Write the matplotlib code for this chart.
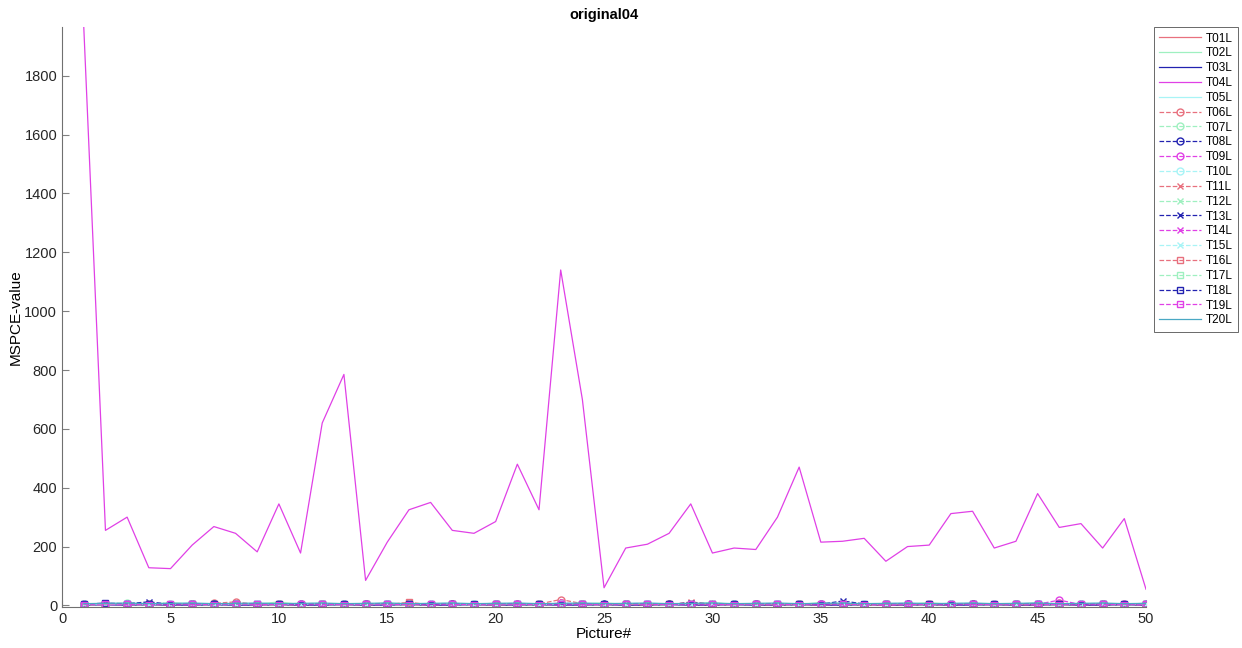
import matplotlib
matplotlib.use('Agg')
import matplotlib.pyplot as plt

plt.rcParams['font.family'] = ['Liberation Sans', 'DejaVu Sans']

pictures = list(range(1, 51))

t04 = [1965, 255, 300, 128, 125, 205, 268, 245, 182, 345,
       178, 620, 785, 85, 215, 325, 350, 255, 245, 285,
       480, 325, 1140, 700, 60, 195, 208, 245, 345, 178,
       195, 190, 300, 470, 215, 218, 228, 150, 200, 205,
       312, 320, 195, 218, 380, 265, 278, 195, 295, 55]

# the other 19 series all stay close to zero
small = {
  'T01L': [3, 4, 2, 3, 5, 2, 3, 4, 2, 3, 2, 4, 3, 2, 4, 3, 2, 3, 4, 2, 3, 2, 4, 3, 2,
           3, 2, 4, 3, 2, 3, 4, 2, 3, 2, 3, 1, 2, 3, 2, 3, 4, 2, 3, 2, 4, 3, 2, 3, 2],
  'T02L': [2, 5, 4, 3, 10, 3, 2, 3, 4, 12, 3, 2, 4, 3, 9, 2, 3, 4, 3, 8, 2, 3, 4, 5, 9,
           3, 2, 3, 4, 10, 3, 2, 4, 3, 10, 3, 2, 3, 4, 10, 3, 2, 3, 4, 9, 3, 2, 4, 3, 8],
  'T03L': [1, 2, 1, 2, 1, 1, 2, 1, 1, 2, 1, 1, 2, 1, 1, 2, 1, 1, 2, 1, 1, 2, 1, 1, 2,
           1, 1, 2, 1, 1, 2, 1, 1, 2, 1, 1, 2, 1, 1, 2, 1, 1, 2, 1, 1, 2, 1, 1, 2, 1],
  'T05L': [4, 5, 6, 4, 5, 6, 4, 5, 6, 4, 5, 6, 4, 5, 6, 4, 5, 6, 4, 5, 6, 4, 5, 6, 4,
           5, 6, 4, 5, 6, 4, 5, 6, 4, 5, 6, 4, 5, 6, 4, 5, 6, 4, 5, 6, 4, 5, 6, 4, 5],
  'T06L': [4, 6, 3, 5, 2, 4, 7, 12, 3, 4, 5, 3, 4, 2, 5, 8, 3, 4, 3, 2, 4, 5, 20, 6, 3,
           4, 2, 5, 6, 3, 4, 3, 2, 5, 4, 6, 1, 2, 3, 4, 5, 3, 4, 2, 3, 7, 4, 3, 5, 2],
  'T07L': [3, 5, 8, 4, 3, 5, 6, 4, 3, 5, 4, 6, 3, 5, 4, 2, 3, 6, 4, 3, 2, 4, 5, 3, 4,
           5, 3, 4, 6, 3, 4, 5, 3, 4, 5, 3, 2, 4, 5, 3, 4, 5, 3, 4, 5, 3, 4, 5, 6, 3],
  'T08L': [5, 6, 4, 3, 2, 5, 4, 6, 3, 4, 5, 3, 4, 5, 3, 4, 5, 6, 3, 4, 2, 4, 5, 3, 4,
           5, 3, 4, 5, 3, 4, 5, 3, 4, 5, 3, 2, 4, 5, 3, 4, 5, 3, 4, 5, 3, 4, 5, 3, 4],
  'T09L': [3, 4, 5, 3, 4, 5, 3, 6, 2, 3, 4, 5, 3, 4, 5, 3, 4, 5, 3, 4, 5, 3, 8, 4, 3,
           4, 5, 3, 4, 2, 3, 4, 5, 3, 4, 5, 3, 1, 4, 5, 3, 4, 5, 3, 4, 18, 3, 4, 5, 1],
  'T10L': [4, 5, 6, 3, 4, 5, 3, 4, 5, 6, 3, 4, 5, 3, 4, 5, 6, 3, 4, 5, 3, 4, 5, 6, 3,
           4, 5, 3, 4, 5, 6, 3, 4, 5, 3, 4, 5, 6, 3, 4, 5, 3, 4, 5, 6, 3, 4, 5, 3, 4],
  'T11L': [2, 3, 4, 2, 3, 4, 5, 3, 4, 2, 3, 4, 5, 3, 4, 2, 3, 4, 5, 3, 4, 2, 6, 4, 5,
           3, 4, 2, 12, 4, 5, 3, 4, 2, 3, 4, 5, 3, 4, 2, 3, 4, 5, 3, 4, 2, 3, 4, 5, 3],
  'T12L': [3, 4, 5, 6, 3, 4, 5, 6, 3, 4, 5, 6, 3, 4, 5, 6, 3, 4, 5, 6, 3, 4, 5, 6, 3,
           4, 5, 6, 3, 4, 5, 6, 3, 4, 5, 6, 3, 4, 5, 6, 3, 4, 5, 6, 3, 4, 5, 6, 3, 4],
  'T13L': [4, 5, 6, 12, 4, 5, 4, 5, 6, 4, 5, 6, 4, 5, 6, 4, 5, 6, 4, 5, 6, 4, 5, 6, 4,
           5, 6, 4, 9, 5, 6, 4, 5, 6, 4, 15, 5, 6, 4, 5, 6, 4, 5, 6, 4, 5, 6, 4, 5, 6],
  'T14L': [2, 3, 2, 3, 2, 3, 2, 3, 2, 3, 2, 3, 2, 3, 2, 3, 2, 3, 2, 3, 2, 3, 2, 3, 2,
           3, 2, 3, 2, 3, 2, 3, 2, 3, 2, 3, 2, 3, 2, 3, 2, 3, 2, 3, 2, 3, 2, 3, 2, 3],
  'T15L': [5, 6, 7, 5, 6, 7, 5, 6, 7, 5, 6, 7, 5, 6, 7, 5, 6, 7, 5, 6, 7, 5, 6, 7, 5,
           6, 7, 5, 6, 7, 5, 6, 7, 5, 6, 7, 5, 6, 7, 5, 6, 7, 5, 6, 7, 5, 6, 7, 5, 6],
  'T16L': [3, 4, 3, 4, 3, 4, 3, 4, 3, 4, 3, 4, 3, 4, 3, 10, 3, 4, 3, 4, 3, 4, 3, 4, 3,
           4, 3, 4, 3, 4, 3, 4, 3, 4, 3, 4, 3, 4, 3, 4, 3, 4, 3, 4, 3, 4, 3, 4, 3, 4],
  'T17L': [2, 4, 3, 2, 4, 3, 2, 4, 3, 2, 4, 3, 2, 4, 3, 2, 4, 3, 2, 4, 3, 2, 4, 3, 2,
           4, 3, 2, 4, 3, 2, 4, 3, 2, 4, 3, 2, 4, 3, 2, 4, 3, 2, 4, 3, 2, 4, 3, 2, 4],
  'T18L': [4, 8, 5, 4, 3, 5, 4, 6, 5, 4, 3, 5, 4, 6, 5, 4, 3, 5, 4, 6, 5, 4, 3, 5, 4,
           6, 5, 4, 3, 5, 4, 6, 5, 4, 3, 5, 4, 6, 5, 4, 3, 5, 4, 6, 5, 4, 3, 5, 4, 6],
  'T19L': [3, 5, 4, 3, 5, 4, 3, 5, 4, 3, 5, 4, 3, 5, 4, 3, 5, 4, 3, 5, 4, 3, 5, 4, 3,
           5, 4, 3, 5, 4, 3, 5, 4, 3, 5, 4, 3, 5, 4, 3, 5, 4, 3, 5, 4, 3, 5, 4, 3, 5],
  'T20L': [6, 7, 8, 6, 7, 8, 6, 7, 8, 6, 7, 8, 6, 7, 8, 6, 7, 8, 6, 7, 8, 6, 7, 8, 6,
           7, 8, 6, 7, 8, 6, 7, 8, 6, 7, 8, 6, 7, 8, 6, 7, 8, 6, 7, 8, 6, 7, 8, 6, 7],
}

names = ['T%02dL' % i for i in range(1, 21)]
series = dict(small)
series['T04L'] = t04

# matlab style r g b m c cycle, washed out like the original
palette = ['#e8707e', '#9ff0c0', '#2222b0', '#e040e6', '#a8f4f6']
markers = [None] * 5 + ['o'] * 5 + ['x'] * 5 + ['s'] * 5


def main():
  fig = plt.figure(figsize=(12.42, 6.48), dpi=100)
  ax = fig.add_axes([0.05, 0.063, 0.8727, 0.895])

  for i, name in enumerate(names):
    col = palette[i % 5]
    mk = markers[i]
    ls = '-' if mk is None else '--'
    if name == 'T20L':
      col, mk, ls = '#4aa8c4', None, '-'
    ax.plot(pictures, series[name], color=col, linestyle=ls, marker=mk,
            markersize=5, markerfacecolor='none', linewidth=0.9,
            label=name)

  ax.set_xlim(0, 50)
  ax.set_ylim(-6, 1965)
  ax.set_xticks(range(0, 51, 5))
  ax.set_yticks(range(0, 1801, 200))
  ax.tick_params(direction='in', length=5, labelsize=10.5, colors='#262626')
  ax.tick_params(color='#808080')
  for s in ['top', 'right']:
    ax.spines[s].set_visible(False)
  for s in ['left', 'bottom']:
    ax.spines[s].set_color('#707070')
    ax.spines[s].set_linewidth(0.8)

  ax.set_xlabel('Picture#', fontsize=11, labelpad=1)
  ax.set_ylabel('MSPCE-value', fontsize=11, labelpad=1)
  ax.set_title('original04', fontsize=10.5, fontweight='bold', pad=6)

  leg = ax.legend(loc='upper left', bbox_to_anchor=(1.007, 1.0), fontsize=8.5,
                  frameon=True, fancybox=False, borderaxespad=0,
                  handlelength=3.6, labelspacing=0.24, borderpad=0.45,
                  handletextpad=0.4)
  leg.get_frame().set_edgecolor('#262626')
  leg.get_frame().set_linewidth(0.6)

  fig.savefig('out.png', dpi=100)


if __name__ == '__main__':
  main()
